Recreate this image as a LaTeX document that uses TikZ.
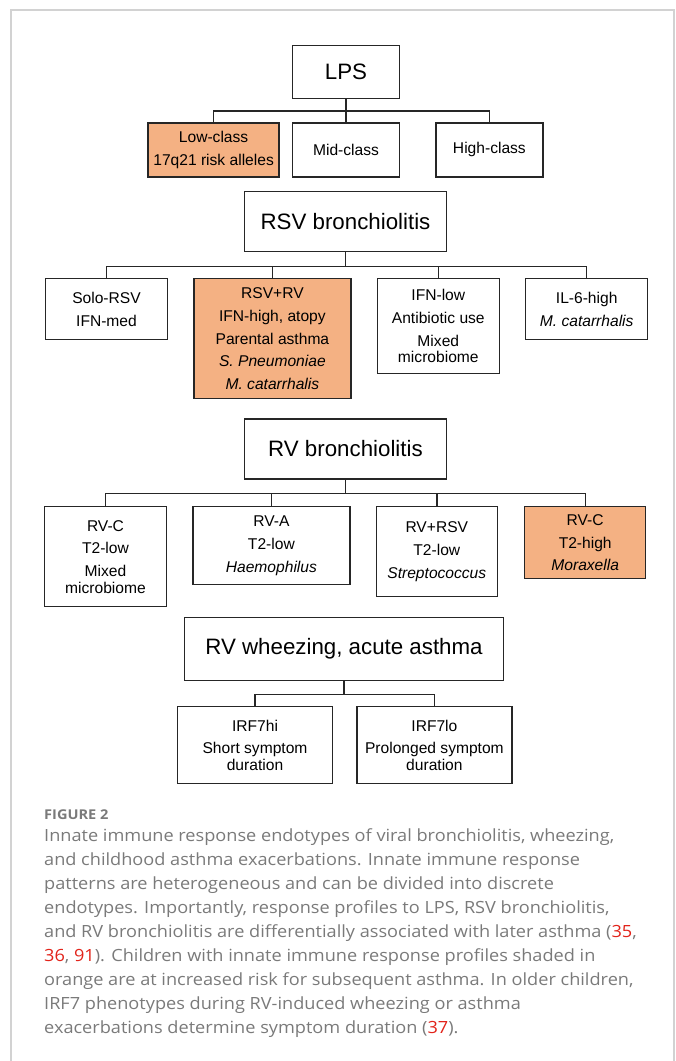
\documentclass[tikz,border=0pt]{standalone}
\usepackage{fontspec}
\setmainfont{Liberation Sans}
\newfontfamily\capfont[FakeStretch=1.08]{Open Sans}
\usetikzlibrary{positioning}
\definecolor{boxorange}{HTML}{F4B183}
\definecolor{boxline}{HTML}{262626}
\definecolor{capgray}{HTML}{7A7A7A}
\definecolor{refred}{HTML}{E2231A}
\definecolor{framegray}{HTML}{D2D2D2}
\newcommand{\refnum}[1]{\textcolor{refred}{#1}}

\begin{document}
\begin{tikzpicture}[x=1pt, y=-1pt,
	headbox/.style={draw=boxline, line width=1.4pt, minimum width=202pt, minimum height=60pt, inner sep=0pt, font=\fontsize{22.3}{26}\selectfont},
	leafbox/.style={draw=boxline, line width=1.4pt, align=center, inner sep=0pt, font=\fontsize{15.6}{16.6}\selectfont},
	risk/.style={fill=boxorange},
	link/.style={draw=boxline, line width=1.4pt},
	captext/.style={anchor=base west, inner sep=0pt, text=capgray, font=\capfont\fontsize{16.8}{20}\selectfont}]

	\useasboundingbox (0,0) rectangle (676,1061);
	\draw[framegray, line width=1.5pt] (11,1070) -- (11,10) -- (674,10) -- (674,1070);

	\node[headbox, minimum width=107pt, minimum height=53pt] (lps) at (346,72) {LPS};
	\node[leafbox, minimum width=107pt, minimum height=54pt, below=23pt of lps] (mid) {Mid-class};
	\node[leafbox, risk, minimum width=131pt, minimum height=54pt, left=12pt of mid] (low) {Low-class\\[6.1pt]17q21 risk alleles};
	\node[leafbox, minimum width=107pt, minimum height=54pt, right=35pt of mid] (high) {High-class};

	\node[headbox] (rsv) at (345.5,221.5) {RSV bronchiolitis};
	\node[leafbox, minimum width=122pt, minimum height=61pt, anchor=north] (solo) at (106.5,278) {Solo-RSV\\[6.1pt]IFN-med};
	\node[leafbox, risk, minimum width=157pt, minimum height=120pt, right=25pt of solo.north east, anchor=north west] (rsvrv) {RSV+RV\\[6.1pt]IFN-high, atopy\\[6.1pt]Parental asthma\\[6.1pt]\textit{S. Pneumoniae}\\[6.1pt]\textit{M. catarrhalis}};
	\node[leafbox, minimum width=122pt, minimum height=95pt, right=25pt of rsvrv.north east, anchor=north west] (ifnlow) {IFN-low\\[6.1pt]Antibiotic use\\[6.1pt]Mixed\\microbiome};
	\node[leafbox, minimum width=122pt, minimum height=61pt, right=25pt of ifnlow.north east, anchor=north west] (il6) {IL-6-high\\[6.1pt]\textit{M. catarrhalis}};

	\node[headbox] (rv) at (345.5,449) {RV bronchiolitis};
	\node[leafbox, minimum width=122pt, minimum height=100pt, anchor=north] (rvc) at (105.5,506) {RV-C\\[6.1pt]T2-low\\[6.1pt]Mixed\\microbiome};
	\node[leafbox, minimum width=157pt, minimum height=78pt, right=25pt of rvc.north east, anchor=north west] (rva) {RV-A\\[6.1pt]T2-low\\[6.1pt]\textit{Haemophilus}};
	\node[leafbox, minimum width=121pt, minimum height=90pt, right=25pt of rva.north east, anchor=north west] (rvrsv) {RV+RSV\\[6.1pt]T2-low\\[6.1pt]\textit{Streptococcus}};
	\node[leafbox, risk, minimum width=121pt, minimum height=72pt, right=26pt of rvrsv.north east, anchor=north west] (rvhigh) {RV-C\\[6.1pt]T2-high\\[6.1pt]\textit{Moraxella}};

	\node[headbox, minimum width=319pt, minimum height=63pt] (wheeze) at (344,649) {RV wheezing, acute asthma};
	\node[leafbox, minimum width=155pt, minimum height=77pt, anchor=north] (irfhi) at (255,706) {IRF7hi\\[6.1pt]Short symptom\\duration};
	\node[leafbox, minimum width=155pt, minimum height=77pt, right=23pt of irfhi.north east, anchor=north west] (irflo) {IRF7lo\\[6.1pt]Prolonged symptom\\duration};

	\coordinate[below=11.6pt of lps] (lpsbus);
	\draw[link] (lps) -- (mid);
	\draw[link] (low.north) |- (lpsbus) -| (high.north);

	\coordinate[below=14pt of rsv] (rsvbus);
	\draw[link] (rsv.south) -- (rsvbus);
	\draw[link] (solo.north) |- (rsvbus) -| (il6.north);
	\draw[link] (rsvrv.north) -- (rsvrv.north |- rsvbus);
	\draw[link] (ifnlow.north) -- (ifnlow.north |- rsvbus);

	\coordinate[below=14pt of rv] (rvbus);
	\draw[link] (rv.south) -- (rvbus);
	\draw[link] (rvc.north) |- (rvbus) -| (rvhigh.north);
	\draw[link] (rva.north) -- (rva.north |- rvbus);
	\draw[link] (rvrsv.north) -- (rvrsv.north |- rvbus);

	\coordinate[below=13.5pt of wheeze] (wheezebus);
	\draw[link] (wheeze.south) -- (wheezebus);
	\draw[link] (irfhi.north) |- (wheezebus) -| (irflo.north);

	\node[anchor=base west, inner sep=0pt, text=capgray, font=\capfont\bfseries\fontsize{13.5}{16}\selectfont] (figlabel) at (44,819.3) {FIGURE 2};
	\foreach \ln [count=\i] in {
		{Innate immune response endotypes of viral bronchiolitis, wheezing,},
		{and childhood asthma exacerbations. Innate immune response},
		{patterns are heterogeneous and can be divided into discrete},
		{endotypes. Importantly, response profiles to LPS, RSV bronchiolitis,},
		{and RV bronchiolitis are differentially associated with later asthma (\refnum{35},},
		{\refnum{36}, \refnum{91}). Children with innate immune response profiles shaded in},
		{orange are at increased risk for subsequent asthma. In older children,},
		{IRF7 phenotypes during RV-induced wheezing or asthma},
		{exacerbations determine symptom duration (\refnum{37}).}}
		\node[captext] (cap\i) at (44,{841.5+24.04*(\i-1)}) {\ln};

\end{tikzpicture}
\end{document}
